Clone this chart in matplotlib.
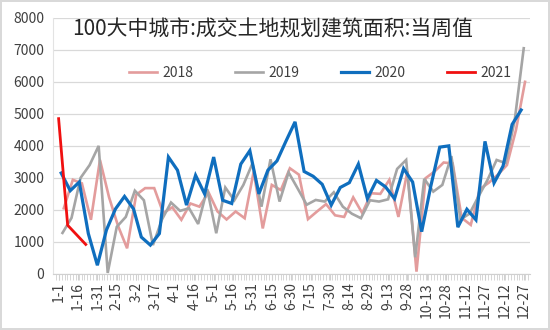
import matplotlib
matplotlib.use('Agg')
import matplotlib.pyplot as plt
import numpy as np
import pandas as pd

plt.rcParams['font.family'] = ['Noto Sans CJK SC', 'DejaVu Sans']

title = '100大中城市:成交土地规划建筑面积:当周值'
years = ['2018', '2019', '2020', '2021']
# first weekly observation of each year
first_day = ['2018-01-05', '2019-01-04', '2020-01-03', '2021-01-01']

v2018 = [2050, 2940, 2830, 1690, 3560, 2400, 1500, 800, 2470, 2680,
         2680, 1900, 2080, 1690, 2200, 2100, 2550, 1950, 1700, 1950,
         1740, 3200, 1420, 2780, 2620, 3300, 3100, 1710, 1950, 2180,
         1830, 1780, 2390, 1900, 2520, 2500, 2940, 1780, 3210, 70,
         2990, 3200, 3480, 3450, 1750, 1530, 2650, 2850, 3100, 3400,
         4500, 6000]
v2019 = [1280, 1750, 3000, 3400, 4000, 30, 1470, 1780, 2600, 2300,
         900, 1700, 2230, 1970, 2050, 1560, 2650, 1270, 2700, 2300,
         2780, 3450, 2100, 3580, 2260, 3170, 2670, 2160, 2310, 2260,
         2550, 2100, 1880, 1740, 2300, 2260, 2330, 3280, 3560, 520,
         2970, 2570, 2780, 3680, 1700, 1880, 2420, 2940, 3560, 3460,
         4800, 7050]
v2020 = [3150, 2600, 2870, 1260, 270, 1370, 2030, 2420, 2030, 1150,
         900, 1260, 3650, 3240, 2150, 3080, 2500, 3650, 2300, 2200,
         3430, 3850, 2500, 3240, 3530, 4150, 4750, 3200, 3050, 2800,
         2150, 2700, 2850, 3430, 2350, 2920, 2720, 2350, 3290, 2870,
         1320, 2730, 3960, 4000, 1460, 2020, 1690, 4140, 2840, 3370,
         4670, 5120]
v2021 = [4850, 1520, 1220, 920]

series = [v2018, v2019, v2020, v2021]
colors = ['#E39C9C', '#A5A5A5', '#0F6EBE', '#F01010']
widths = [1.9, 1.9, 2.3, 2.0]


def day_offsets(start, n):
    d = pd.date_range(start, periods=n, freq='7D')
    d = pd.to_datetime(pd.DataFrame({'year': 2021, 'month': d.month, 'day': d.day}))
    return (d - pd.Timestamp('2021-01-01')).dt.days.values


tick_days = np.arange(0, 361, 15)
tick_dates = pd.Timestamp('2021-01-01') + pd.to_timedelta(tick_days, unit='D')
tick_labels = [f'{d.month}-{d.day}' for d in tick_dates]

fig = plt.figure(figsize=(5.5, 3.3), dpi=100)
fig.patch.set_edgecolor('#D9D9D9')
fig.patch.set_linewidth(1.5)
ax = fig.add_axes([0.096, 0.170, 0.868, 0.776])

for yr, start, vals, c, lw in zip(years, first_day, series, colors, widths):
    ax.plot(day_offsets(start, len(vals)), vals, color=c, lw=lw, label=yr,
            solid_joinstyle='miter')

ax.set_xlim(-4.5, 365)
ax.set_ylim(0, 8000)
ax.set_yticks(range(0, 8001, 1000))
ax.set_xticks(tick_days)
ax.set_xticklabels(tick_labels, rotation=90)
ax.set_xticks(np.arange(-2, 365, 2.2), minor=True)
ax.grid(axis='y', color='#D9D9D9', lw=0.9)
ax.set_axisbelow(True)
for s in ['top', 'right']:
    ax.spines[s].set_visible(False)
ax.spines['left'].set_color('#E3E3E3')
ax.spines['bottom'].set_color('#D0D0D0')
ax.tick_params(axis='y', length=0, pad=6, labelsize=10, labelcolor='#404040')
ax.tick_params(axis='x', which='both', length=4, color='#D0D0D0', pad=2,
               labelsize=10, labelcolor='#404040')

ax.text(0.04, 0.955, title, transform=ax.transAxes, fontsize=15,
        color='#262626', va='center', ha='left')

ax.legend(loc='center', bbox_to_anchor=(0.56, 0.785), ncol=4, frameon=False,
          fontsize=10, handlelength=2.0, handletextpad=0.4, columnspacing=3.0,
          labelcolor='#404040')

fig.savefig('out.png', dpi=100)
